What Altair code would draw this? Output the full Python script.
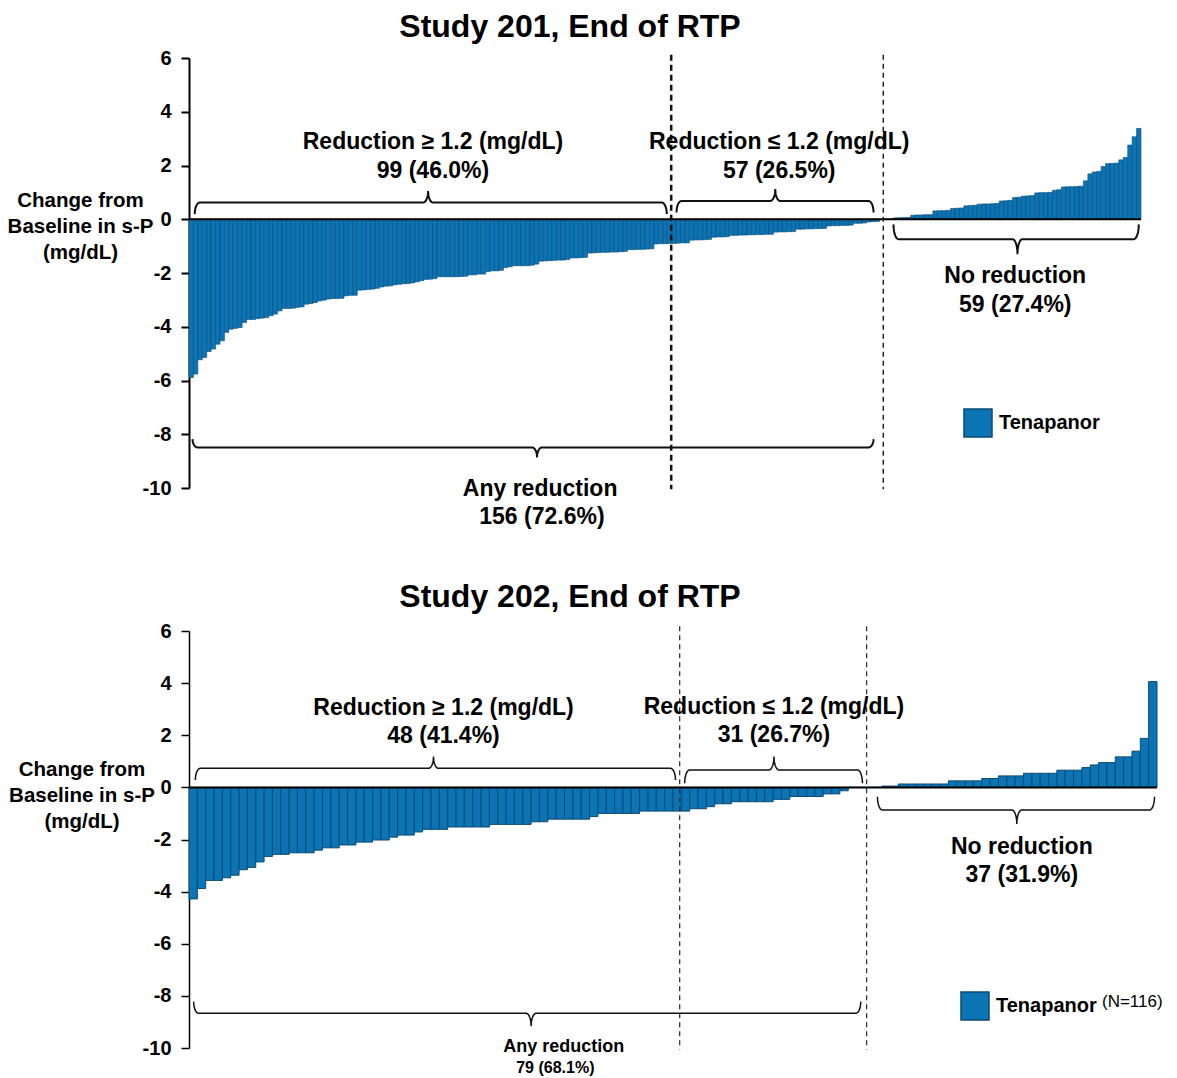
import altair as alt
import numpy as np
import pandas as pd

# ---------------- data ----------------
study201_change = [
    -5.89, -5.76, -5.23, -5.14, -4.92, -4.83, -4.65, -4.52, -4.21, -4.09,
    -4.06, -4.03, -3.84, -3.73, -3.73, -3.70, -3.68, -3.66, -3.59, -3.53,
    -3.41, -3.32, -3.32, -3.31, -3.28, -3.26, -3.16, -3.14, -3.10, -3.04,
    -3.01, -2.97, -2.95, -2.95, -2.94, -2.85, -2.83, -2.83, -2.64, -2.63,
    -2.61, -2.60, -2.57, -2.52, -2.49, -2.48, -2.44, -2.42, -2.40, -2.39,
    -2.37, -2.33, -2.29, -2.24, -2.23, -2.21, -2.14, -2.14, -2.14, -2.14,
    -2.14, -2.13, -2.12, -2.07, -2.07, -2.04, -2.04, -1.95, -1.92, -1.92,
    -1.90, -1.80, -1.77, -1.73, -1.73, -1.73, -1.73, -1.71, -1.67, -1.56,
    -1.55, -1.54, -1.53, -1.52, -1.52, -1.50, -1.44, -1.44, -1.43, -1.42,
    -1.26, -1.25, -1.24, -1.23, -1.23, -1.22, -1.22, -1.21, -1.20,
    -1.13, -1.13, -1.12, -1.12, -1.11, -1.10,
    -0.92, -0.91, -0.91, -0.90, -0.90, -0.89, -0.88, -0.88,
    -0.78, -0.77, -0.77, -0.76, -0.75,
    -0.67, -0.66, -0.66, -0.65,
    -0.60, -0.60, -0.59, -0.59, -0.58, -0.58, -0.57, -0.57, -0.56, -0.56,
    -0.48, -0.47, -0.47, -0.46, -0.46,
    -0.37, -0.37, -0.36, -0.36, -0.35, -0.35, -0.34,
    -0.25, -0.24, -0.24, -0.23, -0.23, -0.22,
    -0.15, -0.15, -0.14,
    -0.10, -0.09, -0.08,
    0.00, 0.00, 0.00,
    0.05, 0.06, 0.06, 0.07,
    0.15, 0.16, 0.16, 0.17, 0.17,
    0.31, 0.32, 0.32, 0.33,
    0.40, 0.41, 0.42,
    0.50, 0.51, 0.52,
    0.56, 0.57, 0.57, 0.58, 0.59,
    0.68, 0.69, 0.70,
    0.81, 0.82,
    0.86, 0.87, 0.88,
    0.98, 0.99, 0.99, 1.00,
    1.08, 1.10,
    1.20, 1.21, 1.21, 1.22, 1.23,
    1.43, 1.69, 1.76, 1.78, 1.96,
    2.07, 2.08, 2.09, 2.21, 2.30,
    2.76, 3.07, 3.38,
]

study202_change = [
    -4.28, -3.88, -3.57, -3.57, -3.47, -3.37, -3.16, -3.07, -2.86, -2.65,
    -2.57, -2.57, -2.51, -2.51, -2.51, -2.41, -2.32, -2.32, -2.21, -2.21,
    -2.10, -2.10, -2.02, -2.02, -1.91, -1.83, -1.83, -1.71, -1.61, -1.61,
    -1.61, -1.52, -1.52, -1.52, -1.52, -1.52, -1.42, -1.42, -1.42, -1.42,
    -1.42, -1.32, -1.32, -1.22, -1.22, -1.22, -1.22, -1.22,
    -1.12, -1.00, -1.00, -1.00, -1.00, -1.00, -0.91, -0.91, -0.91, -0.91,
    -0.91, -0.91, -0.82, -0.82, -0.74, -0.63, -0.63, -0.55, -0.55, -0.55,
    -0.55, -0.55, -0.46, -0.46, -0.35, -0.35, -0.35, -0.35, -0.25, -0.25,
    -0.13,
    0.00, 0.00, 0.00, 0.00,
    0.05, 0.05, 0.13, 0.13, 0.13, 0.13, 0.13, 0.13,
    0.25, 0.25, 0.25, 0.25,
    0.34, 0.34, 0.44, 0.44, 0.44,
    0.54, 0.54, 0.54, 0.54, 0.66, 0.66, 0.66, 0.76, 0.86, 0.95,
    0.95, 1.17, 1.17, 1.39, 1.88, 4.06,
]

group_label = "Tenapanor"
y_ticks = [-10, -8, -6, -4, -2, 0, 2, 4, 6]
y_title = ["Change from", "Baseline in s-P", "(mg/dL)"]

# annotation labels: text, x (bar index), y (mg/dL), font size
study201_labels = [
    ("Reduction \u2265 1.2 (mg/dL)", 55.1, 2.86, 23),
    ("99 (46.0%)", 55.1, 1.78, 23),
    ("Reduction \u2264 1.2 (mg/dL)", 133.3, 2.86, 23),
    ("57 (26.5%)", 133.3, 1.78, 23),
    ("No reduction", 186.6, -2.12, 23),
    ("59 (27.4%)", 186.6, -3.20, 23),
    ("Any reduction", 79.3, -10.04, 23),
    ("156 (72.6%)", 79.7, -11.08, 23),
]
study202_labels = [
    ("Reduction \u2265 1.2 (mg/dL)", 30.5, 3.05, 23),
    ("48 (41.4%)", 30.5, 1.97, 23),
    ("Reduction \u2264 1.2 (mg/dL)", 70.1, 3.09, 23),
    ("31 (26.7%)", 70.1, 2.01, 23),
    ("No reduction", 99.8, -2.29, 23),
    ("37 (31.9%)", 99.8, -3.36, 23),
    ("Any reduction", 44.9, -9.96, 18),
    ("79 (68.1%)", 43.9, -10.77, 16),
]

# braces: x start, x end, x of point, y at tips, y of bar, y of point
study201_braces = [
    (1.3, 107.9, 54.0, 0.19, 0.62, 1.05),
    (110.1, 154.6, 132.4, 0.25, 0.68, 1.12),
    (159.1, 214.5, 187.1, -0.19, -0.74, -1.30),
    (0.8, 154.6, 78.6, -8.18, -8.49, -8.86),
]
study202_braces = [
    (0.76, 58.3, 29.3, 0.28, 0.73, 1.18),
    (59.4, 80.7, 70.1, 0.16, 0.67, 1.18),
    (82.5, 115.7, 99.2, -0.36, -0.87, -1.40),
    (0.56, 80.5, 41.0, -8.22, -8.67, -9.16),
]

# dashed separators (bar index position)
study201_dividers = [108.9, 156.8]
study202_dividers = [58.8, 81.2]

FONT = "Liberation Sans"
BLUE = "#0A74B5"
EDGE = "#0B4A73"


def brace_frame(specs, px_per_x, r_px=5.0, n=10):
    rows = []
    rx = r_px / px_per_x
    a = np.linspace(0, np.pi / 2, n)
    for b, (x0, x1, xp, yt, yh, yp) in enumerate(specs):
        pts = []
        pts += [(x0 + rx - rx * np.cos(t), yt + (yh - yt) * np.sin(t)) for t in a]
        pts += [(xp - rx + rx * np.sin(t), yp + (yh - yp) * np.cos(t)) for t in a]
        pts += [(xp + rx - rx * np.cos(t), yp + (yh - yp) * np.sin(t)) for t in a]
        pts += [(x1 - rx + rx * np.sin(t), yt + (yh - yt) * np.cos(t)) for t in a]
        for k, (x, y) in enumerate(pts):
            rows.append({"brace": b, "k": k, "x": float(x), "y": float(y)})
    return pd.DataFrame(rows)


def make_panel(values, title, labels, braces, dividers, cfg):
    n = len(values)
    width, height = cfg["width"], cfg["height"]
    xs = alt.Scale(domain=[0, n], nice=False, zero=False)
    ys = alt.Scale(domain=[-10, 6], nice=False, zero=False)

    bars_df = pd.DataFrame({
        "i0": np.arange(n), "i1": np.arange(1, n + 1),
        "change": values, "base": 0.0, "group": group_label,
    })

    yaxis = alt.Axis(
        values=y_ticks, labelExpr="'' + datum.value",
        title=y_title, titleAngle=0, titleAlign="center",
        titleBaseline="top", titleX=cfg["tx"], titleY=cfg["ty"],
        titleFont=FONT, titleFontSize=20.5, titleFontWeight="bold",
        titleLineHeight=26, titleColor="black",
        labelFont=FONT, labelFontSize=20, labelFontWeight="bold",
        labelColor="black", labelPadding=10, tickColor="black",
        tickSize=8, tickWidth=cfg["axw"], domainColor="black",
        domainWidth=cfg["axw"], grid=False,
    )

    def Y(field):
        return alt.Y(field, scale=ys, axis=yaxis)

    def X(field):
        return alt.X(field, scale=xs, axis=None)

    bars = alt.Chart(bars_df).mark_rect(stroke=EDGE, strokeWidth=cfg["edge"]).encode(
        x=X("i0:Q"),
        x2="i1",
        y=Y("base:Q"),
        y2="change",
        color=alt.Color(
            "group:N",
            scale=alt.Scale(domain=[group_label], range=[BLUE]),
            legend=alt.Legend(
                title=None, orient="none", legendX=cfg["lx"], legendY=cfg["ly"],
                symbolType="square", symbolSize=784, symbolStrokeColor=EDGE,
                symbolStrokeWidth=1.5, symbolOpacity=1, labelFont=FONT,
                labelFontSize=20, labelFontWeight="bold", labelColor="black",
                labelOffset=6, padding=0,
            ),
        ),
    )

    zero = alt.Chart(pd.DataFrame({"a": [0], "b": [n], "y": [0.0]})).mark_rule(
        color="black", strokeWidth=2
    ).encode(x=X("a:Q"), x2="b", y=Y("y:Q"))

    layers = [bars, zero]
    for j, xd in enumerate(dividers):
        style = cfg["dash"][j]
        d = alt.Chart(pd.DataFrame({"x": [xd], "t": [cfg["dtop"]], "b": [cfg["dbot"]]})).mark_rule(
            color=style[0], strokeWidth=style[1], strokeDash=style[2]
        ).encode(x=X("x:Q"), y=Y("t:Q"), y2="b")
        layers.append(d)

    br = alt.Chart(brace_frame(braces, width / n)).mark_line(
        color="#111111", strokeWidth=cfg["bw"]
    ).encode(x=X("x:Q"), y=Y("y:Q"), detail="brace:N", order="k:Q")
    layers.append(br)

    lab_df = pd.DataFrame(labels, columns=["text", "x", "y", "size"])
    txt = alt.Chart(lab_df).mark_text(
        font=FONT, fontWeight="bold", color="black", baseline="middle", align="center"
    ).encode(
        x=X("x:Q"), y=Y("y:Q"),
        text="text:N",
        size=alt.Size("size:Q", scale=None, legend=None),
    )
    layers.append(txt)

    if cfg.get("extra"):
        ex = alt.Chart(pd.DataFrame({"t": [cfg["extra"]]})).mark_text(
            font=FONT, fontSize=17, color="black", align="left", baseline="middle"
        ).encode(x=alt.value(cfg["ex"]), y=alt.value(cfg["ey"]), text="t:N")
        layers.append(ex)

    return alt.layer(*layers).properties(
        width=width, height=height,
        title=alt.TitleParams(
            text=title, font=FONT, fontSize=32, fontWeight="bold", color="black",
            anchor="middle", dx=cfg["tdx"], offset=cfg["toff"],
        ),
    )


cfg1 = dict(width=952, height=430, tx=-109, ty=132, axw=2, edge=0.6, lx=774, ly=350,
            dash=[("#111111", 2.5, [6, 4]), ("#222222", 1.5, [5, 4])],
            dtop=6.12, dbot=-10.05, bw=2, tdx=-95, toff=4)
cfg2 = dict(width=968, height=417, tx=-107.5, ty=128, axw=1.5, edge=1.0, lx=771, ly=360,
            dash=[("#333333", 1.3, [5, 4]), ("#333333", 1.3, [5, 4])],
            dtop=6.18, dbot=-10.07, bw=1.5, tdx=-103, toff=7,
            extra="(N=116)", ex=913, ey=371)

p1 = make_panel(study201_change, "Study 201, End of RTP", study201_labels,
                study201_braces, study201_dividers, cfg1)
p2 = make_panel(study202_change, "Study 202, End of RTP", study202_labels,
                study202_braces, study202_dividers, cfg2)

chart = alt.vconcat(p1, p2, spacing=51).resolve_scale(color="independent").resolve_legend(
    color="independent"
).properties(
    padding={"left": 7, "top": 11, "right": 5, "bottom": 0},
    background="white",
).configure_view(stroke=None)

chart.save("out.html", embed_options={"renderer": "svg", "actions": False})
